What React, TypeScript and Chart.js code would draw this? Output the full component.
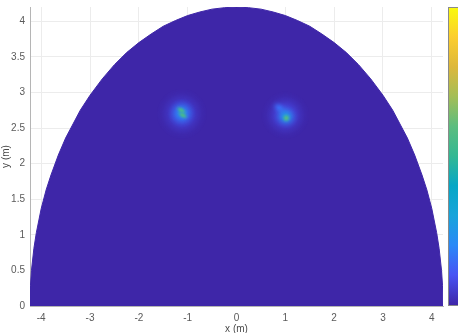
import React, { useEffect, useRef } from 'react';
import { Chart, registerables } from 'chart.js';

Chart.register(...registerables);

// Outline of the field region, metres
const boundaryX = [-4.23, -4.22, -4.2, -4.15, -4.1, -4.0, -3.9, -3.8, -3.65, -3.5, -3.2, -3.0, -2.75, -2.5, -2.25, -2.0, -1.75, -1.5, -1.25, -1.0, -0.75, -0.5, -0.25, 0, 0.25, 0.5, 0.75, 1.0, 1.25, 1.5, 1.75, 2.0, 2.25, 2.5, 2.75, 3.0, 3.2, 3.5, 3.65, 3.8, 3.9, 4.0, 4.1, 4.15, 4.2, 4.22, 4.23];
const boundaryY = [0, 0.29, 0.5, 0.81, 1.03, 1.37, 1.63, 1.84, 2.12, 2.36, 2.75, 2.96, 3.19, 3.39, 3.56, 3.70, 3.82, 3.93, 4.01, 4.08, 4.13, 4.17, 4.19, 4.2, 4.19, 4.17, 4.13, 4.08, 4.01, 3.93, 3.82, 3.70, 3.56, 3.39, 3.19, 2.96, 2.75, 2.36, 2.12, 1.84, 1.63, 1.37, 1.03, 0.81, 0.5, 0.29, 0];

// Hot spots in the field (centre, normalised value, extent in metres)
const spotX = [-1.12, -1.12, -1.13, -1.10, 1.0, 0.88, 1.01, 1.02];
const spotY = [2.70, 2.71, 2.75, 2.68, 2.68, 2.78, 2.66, 2.64];
const spotValue = [0.1, 0.22, 0.55, 0.55, 0.1, 0.14, 0.26, 0.58];
const spotRadiusX = [0.52, 0.3, 0.15, 0.15, 0.5, 0.2, 0.26, 0.11];
const spotRadiusY = [0.36, 0.21, 0.06, 0.06, 0.34, 0.1, 0.17, 0.075];
const spotAngle = [0, 0, 30, 30, 0, 35, 25, 0];

const xTicks = [-4, -3, -2, -1, 0, 1, 2, 3, 4];
const yTicks = [0, 0.5, 1, 1.5, 2, 2.5, 3, 3.5, 4];

const xMin = -4.23;
const xMax = 4.23;
const yMin = 0;
const yMax = 4.2;

// parula colormap stops
const parulaStops = ['#3E26A8', '#4853F4', '#2B89F7', '#18A4DB', '#06A7C6', '#33B893', '#5CBD7F', '#A4BE56', '#DDB83B', '#FCCE2E', '#F9FB0E'];

function hexToRgb(h: string): number[] {
  const n = parseInt(h.slice(1), 16);
  return [(n >> 16) & 255, (n >> 8) & 255, n & 255];
}

function parula(v: number): number[] {
  const t = Math.max(0, Math.min(1, v)) * (parulaStops.length - 1);
  const i = Math.min(parulaStops.length - 2, Math.floor(t));
  const f = t - i;
  const a = hexToRgb(parulaStops[i]);
  const b = hexToRgb(parulaStops[i + 1]);
  return [0, 1, 2].map((k) => Math.round(a[k] + (b[k] - a[k]) * f));
}

const blobCache = new Map<string, HTMLCanvasElement>();

function blobCanvas(chart: any, i: number): HTMLCanvasElement | string {
  const xs = chart.scales.x;
  const ys = chart.scales.y;
  if (!xs || !ys) return 'circle';
  const pxX = Math.abs(xs.getPixelForValue(1) - xs.getPixelForValue(0));
  const pxY = Math.abs(ys.getPixelForValue(1) - ys.getPixelForValue(0));
  const rx = Math.max(1, spotRadiusX[i] * pxX);
  const ry = Math.max(1, spotRadiusY[i] * pxY);
  const key = i + ':' + rx.toFixed(2) + ':' + ry.toFixed(2);
  const cached = blobCache.get(key);
  if (cached) return cached;
  const c = document.createElement('canvas');
  c.width = Math.ceil(rx * 2) + 2;
  c.height = Math.ceil(ry * 2) + 2;
  const g = c.getContext('2d')!;
  const [r, gg, b] = parula(spotValue[i]);
  g.translate(c.width / 2, c.height / 2);
  g.scale(rx, ry);
  const grad = g.createRadialGradient(0, 0, 0, 0, 0, 1);
  const stops: [number, number][] = [[0, 1], [0.2, 0.85], [0.4, 0.55], [0.6, 0.25], [0.8, 0.07], [1, 0]];
  stops.forEach(([o, a]) => grad.addColorStop(o, `rgba(${r},${gg},${b},${a})`));
  g.fillStyle = grad;
  g.beginPath();
  g.arc(0, 0, 1, 0, Math.PI * 2);
  g.fill();
  blobCache.set(key, c);
  return c;
}

const colorbarPlugin = {
  id: 'colorbar',
  afterDraw(chart: any) {
    const { ctx, chartArea } = chart;
    const x0 = chartArea.right + 5;
    const w = 24;
    const top = chartArea.top;
    const bottom = chartArea.bottom - 1;
    const grad = ctx.createLinearGradient(0, bottom, 0, top);
    parulaStops.forEach((c, i) => grad.addColorStop(i / (parulaStops.length - 1), c));
    ctx.save();
    ctx.fillStyle = grad;
    ctx.fillRect(x0, top, w, bottom - top);
    ctx.strokeStyle = '#8a8a8a';
    ctx.lineWidth = 1;
    ctx.strokeRect(x0 + 0.5, top + 0.5, w, bottom - top);
    ctx.restore();
  },
};

export default function App() {
  const ref = useRef<HTMLCanvasElement | null>(null);

  useEffect(() => {
    document.body.style.margin = '0';
    const canvas = ref.current;
    if (!canvas) return;

    const fieldColor = 'rgb(' + parula(0).join(',') + ')';
    const labelFont = { family: '"Liberation Sans", Arial, Helvetica, sans-serif', size: 10 };

    const chart = new Chart(canvas, {
      type: 'scatter',
      data: {
        datasets: [
          {
            type: 'line',
            label: 'field',
            data: boundaryX.map((x, i) => ({ x, y: boundaryY[i] })),
            fill: 'origin',
            backgroundColor: fieldColor,
            borderColor: fieldColor,
            borderWidth: 1,
            pointRadius: 0,
            tension: 0,
            order: 2,
          } as any,
          {
            type: 'scatter',
            label: 'spots',
            data: spotX.map((x, i) => ({ x, y: spotY[i] })),
            pointStyle: (ctx: any) =>
              ctx.dataIndex === undefined ? 'circle' : blobCanvas(ctx.chart, ctx.dataIndex),
            pointRotation: spotAngle,
            pointRadius: 3,
            order: 1,
          } as any,
        ],
      },
      options: {
        responsive: false,
        animation: false,
        devicePixelRatio: 1,
        events: [],
        layout: { padding: { left: 0, top: 7, right: 15, bottom: 0 } },
        plugins: {
          legend: { display: false },
          tooltip: { enabled: false },
        },
        scales: {
          x: {
            type: 'linear',
            min: xMin,
            max: xMax,
            afterBuildTicks: (scale: any) => {
              scale.ticks = xTicks.map((v) => ({ value: v }));
            },
            afterFit: (scale: any) => {
              scale.height = 27;
              scale.paddingLeft = 0;
              scale.paddingRight = 0;
            },
            ticks: {
              padding: 6,
              color: '#5a5a5a',
              font: labelFont,
              maxRotation: 0,
              autoSkip: false,
              callback: (v: any) => String(v),
            },
            grid: { color: '#ececec', drawTicks: false },
            border: { display: true, color: '#b5b5b5' },
            title: {
              display: true,
              text: 'x (m)',
              color: '#4a4a4a',
              font: labelFont,
              padding: { top: 0, bottom: -2 },
            },
          },
          y: {
            type: 'linear',
            min: yMin,
            max: yMax,
            afterBuildTicks: (scale: any) => {
              scale.ticks = yTicks.map((v) => ({ value: v }));
            },
            afterFit: (scale: any) => {
              scale.width = 30;
              scale.paddingTop = 0;
              scale.paddingBottom = 0;
            },
            ticks: {
              padding: 5,
              color: '#5a5a5a',
              font: labelFont,
              autoSkip: false,
              callback: (v: any) => String(v),
            },
            grid: { color: '#ececec', drawTicks: false },
            border: { display: true, color: '#b5b5b5' },
            title: {
              display: true,
              text: 'y (m)',
              color: '#4a4a4a',
              font: labelFont,
              padding: { top: 0, bottom: 0 },
            },
          },
        },
      },
      plugins: [colorbarPlugin],
    } as any);

    return () => chart.destroy();
  }, []);

  return (
    <div style={{ width: 458, height: 333, position: 'relative', background: '#fff' }}>
      <canvas ref={ref} width={458} height={333} style={{ display: 'block' }} />
    </div>
  );
}
